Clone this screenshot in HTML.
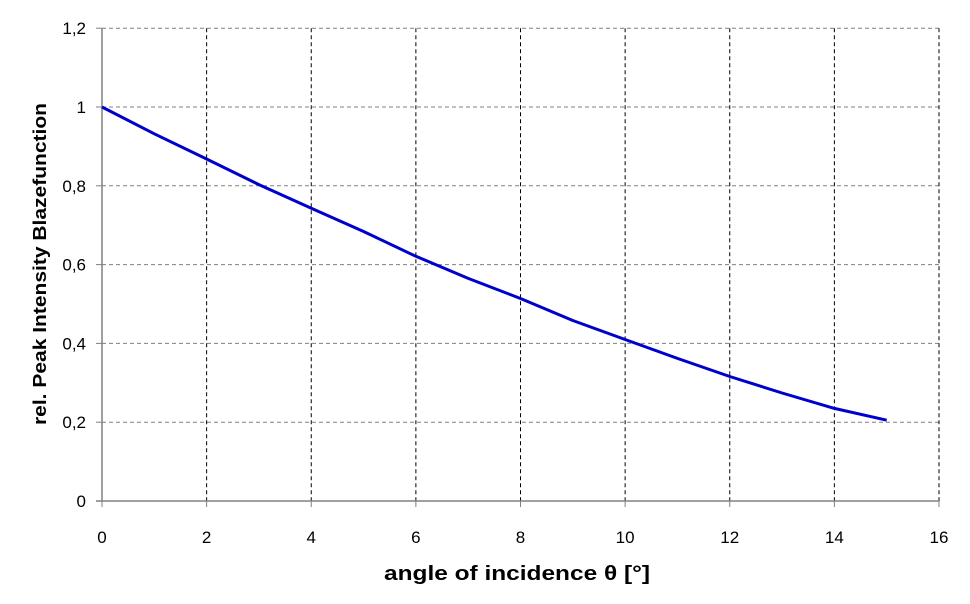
<!DOCTYPE html>
<html><head><meta charset="utf-8"><style>
html,body{margin:0;padding:0;background:#fff;}
svg{display:block;font-family:"Liberation Sans",sans-serif;}
</style></head><body>
<svg id="chart" width="970" height="604" viewBox="0 0 970 604" xmlns="http://www.w3.org/2000/svg">
<g id="grid"></g>
<g id="axes"></g>
<g id="series"></g>
<text x="517" y="580" text-anchor="middle" font-size="20" font-weight="bold" textLength="266" lengthAdjust="spacingAndGlyphs">angle of incidence θ [°]</text>
<text transform="translate(46,264) rotate(-90)" text-anchor="middle" font-size="18" font-weight="bold" textLength="322" lengthAdjust="spacingAndGlyphs">rel. Peak Intensity Blazefunction</text>
</svg>
<script>
const xTicks=[0,2,4,6,8,10,12,14,16];
const yTicks=[0,0.2,0.4,0.6,0.8,1,1.2];
const yTickLabels=["0","0,2","0,4","0,6","0,8","1","1,2"];
const angles=[0,1,2,3,4,5,6,7,8,9,10,11,12,13,14,15];
const intensity=[1.0,0.932,0.868,0.803,0.743,0.684,0.621,0.565,0.514,0.458,0.41,0.362,0.316,0.274,0.235,0.205];
const NS="http://www.w3.org/2000/svg";
const x=v=>102+v*(837/16);
const y=v=>501-v*(394/1);
function mk(tag,attrs,parent){const e=document.createElementNS(NS,tag);for(const k in attrs)e.setAttribute(k,attrs[k]);parent.appendChild(e);return e;}
const grid=document.getElementById('grid'),axes=document.getElementById('axes'),series=document.getElementById('series');
yTicks.forEach((t,i)=>{
 if(t>0){const l=mk('line',{x1:102,x2:x(16),y1:y(t),y2:y(t),stroke:'#808080','stroke-dasharray':'4,3','stroke-width':1},grid);
 
 }
 const tk=mk('line',{x1:96,x2:102,y1:y(t),y2:y(t),stroke:'#808080'},axes);
 
 
 const tx=mk('text',{x:86,y:y(t)+6,'text-anchor':'end','font-size':17},axes);
 tx.textContent=yTickLabels[i];
 
 
});
xTicks.forEach(t=>{
 if(t>0){const l=mk('line',{x1:x(t),x2:x(t),y1:y(1.2),y2:y(0),stroke:'#000','stroke-dasharray':'4,3','stroke-width':1},grid);
 
 }
 const tk=mk('line',{x1:x(t),x2:x(t),y1:501,y2:507,stroke:'#808080'},axes);
 
 
 const tx=mk('text',{x:x(t),y:543,'text-anchor':'middle','font-size':17},axes);
 tx.textContent=String(t);
 
 
});
const ya=mk('line',{x1:102,x2:102,y1:y(1.2),y2:501,stroke:'#808080','stroke-width':1.5},axes);


const xa=mk('line',{x1:96,x2:x(16),y1:501,y2:501,stroke:'#808080','stroke-width':1.5},axes);


const pts=angles.map((a,i)=>x(a).toFixed(1)+','+y(intensity[i]).toFixed(1)).join(' ');
const pl=mk('polyline',{points:pts,fill:'none',stroke:'#0000cc','stroke-width':3,'stroke-linejoin':'round'},series);


</script>
</body></html>
